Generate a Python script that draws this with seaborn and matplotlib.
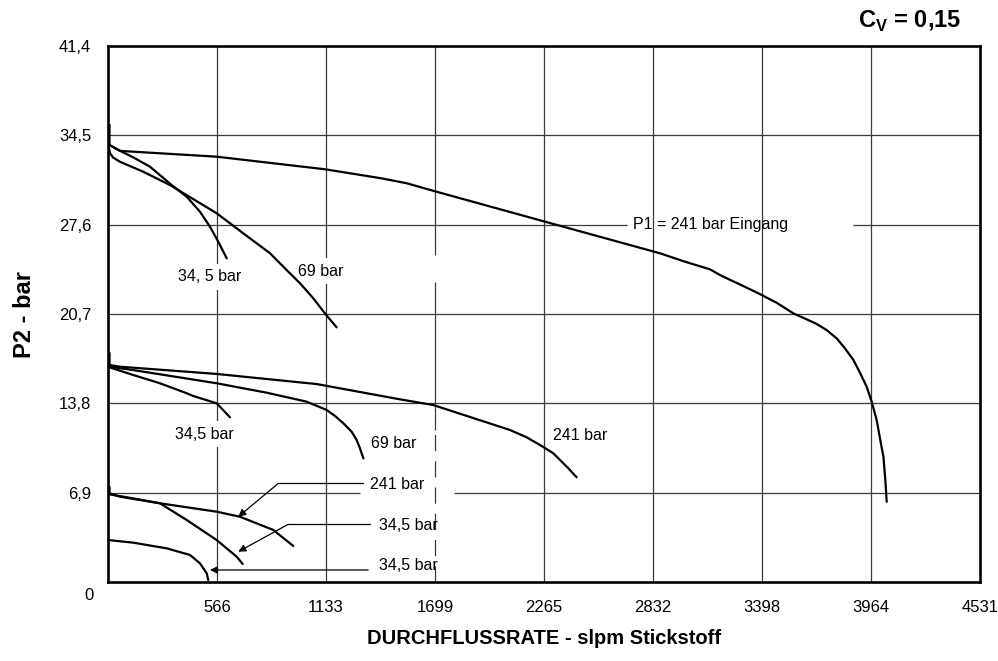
import numpy as np
import pandas as pd
import matplotlib
matplotlib.use("Agg")
import matplotlib.pyplot as plt
import seaborn as sns

# --- data (flow in slpm, P2 in bar) ---
# upper family, P2 set ~34 bar
up241_x = [8, 8, 62, 565, 1127, 1413, 1552, 1689, 2254, 2868, 2998, 3128, 3180, 3215, 3301, 3379, 3474,
           3561, 3630, 3682, 3734, 3786, 3829, 3873, 3907, 3942, 3968, 3994, 4011, 4029, 4039, 4046]
up241_y = [35.3, 33.75, 33.3, 32.85, 31.88, 31.2, 30.8, 30.22, 27.9, 25.39, 24.74, 24.15, 23.71, 23.46, 22.86, 22.3, 21.57,
           20.75, 20.29, 19.93, 19.46, 18.82, 18.05, 17.15, 16.17, 15.08, 13.93, 12.51, 11.1, 9.68, 7.88, 6.2]
up69_x = [3, 10, 26, 62, 183, 322, 565, 703, 842, 928, 998, 1067, 1127, 1188]
up69_y = [33.68, 33.14, 32.79, 32.46, 31.69, 30.66, 28.48, 26.93, 25.39, 24.1, 23.07, 21.91, 20.75, 19.67]
up34_x = [8, 62, 131, 218, 331, 409, 478, 530, 573, 617]
up34_y = [33.75, 33.31, 32.8, 32.08, 30.66, 29.76, 28.6, 27.44, 26.28, 25.0]

# middle family, P2 set ~17 bar
mid241_x = [8, 8, 62, 565, 1084, 1517, 1690, 2089, 2175, 2254, 2314, 2392, 2435]
mid241_y = [17.69, 16.76, 16.63, 16.07, 15.29, 14.11, 13.67, 11.74, 11.18, 10.5, 9.94, 8.78, 8.09]
mid69_x = [8, 131, 565, 825, 1032, 1136, 1180, 1223, 1266, 1292, 1309, 1327]
mid69_y = [16.63, 16.37, 15.35, 14.62, 13.93, 13.29, 12.82, 12.26, 11.61, 10.97, 10.33, 9.55]
mid34_x = [8, 131, 270, 409, 443, 565, 634]
mid34_y = [16.58, 15.99, 15.35, 14.58, 14.37, 13.8, 12.72]

# lower family, P2 set ~7 bar and ~3.5 bar
lo241_x = [8, 8, 62, 270, 565, 686, 859, 963]
lo241_y = [7.34, 6.85, 6.59, 6.08, 5.43, 5.04, 4.02, 2.78]
lo34_x = [8, 131, 270, 409, 565, 669, 700]
lo34_y = [6.77, 6.46, 6.08, 4.79, 3.24, 1.95, 1.39]
bot34_x = [3, 131, 305, 426, 478, 513, 521]
bot34_y = [3.24, 3.04, 2.6, 2.09, 1.44, 0.67, 0.15]

XTICKS = [566, 1133, 1699, 2265, 2832, 3398, 3964, 4531]
YTICKS = [6.9, 13.8, 20.7, 27.6, 34.5, 41.4]
YLABELS = ["6,9", "13,8", "20,7", "27,6", "34,5", "41,4"]

curves = {
    "up241": (up241_x, up241_y), "up69": (up69_x, up69_y), "up34": (up34_x, up34_y),
    "mid241": (mid241_x, mid241_y), "mid69": (mid69_x, mid69_y), "mid34": (mid34_x, mid34_y),
    "lo241": (lo241_x, lo241_y), "lo34": (lo34_x, lo34_y), "bot34": (bot34_x, bot34_y),
}
df = pd.concat([pd.DataFrame({"flow": x, "p2": y, "curve": k}) for k, (x, y) in curves.items()],
               ignore_index=True)

sns.set_theme(style="white")
plt.rcParams["font.family"] = ["Liberation Sans", "DejaVu Sans"]
plt.rcParams["text.color"] = "black"
plt.rcParams["axes.labelcolor"] = "black"
plt.rcParams["mathtext.fontset"] = "custom"
plt.rcParams["mathtext.rm"] = "Liberation Sans"
plt.rcParams["mathtext.bf"] = "Liberation Sans:bold"

fig, ax = plt.subplots(figsize=(9.98, 6.61), dpi=100)
fig.subplots_adjust(left=0.1082, right=0.982, bottom=0.1195, top=0.9304)

XMAX, YMAX = 4531, 41.4
GRID = dict(color="#3a3a3a", lw=0.9, zorder=1)

# --- grid with the gaps of the original drawing ---
for x in XTICKS[:-1]:
    if x == 1699:
        ax.vlines(x, 25.26, YMAX, **GRID)
        ax.vlines(x, 11.74, 23.17, **GRID)
        ax.plot([x, x], [0, 11.74], linestyle=(0, (13, 8)), **GRID)
    else:
        ax.vlines(x, 0, YMAX, **GRID)
for y in YTICKS[:-1]:
    if y == 27.6:
        ax.hlines(y, 0, 2697, **GRID)
        ax.hlines(y, 3871, XMAX, **GRID)
    elif y == 6.9:
        ax.hlines(y, 0, 1309, **GRID)
        ax.hlines(y, 1798, XMAX, **GRID)
    else:
        ax.hlines(y, 0, XMAX, **GRID)

sns.lineplot(data=df, x="flow", y="p2", units="curve", estimator=None, sort=False,
             color="black", lw=1.6, legend=False, ax=ax, zorder=3)

# --- curve labels ---
box = dict(facecolor="white", edgecolor="none", pad=4)
lab = dict(fontsize=11.5, color="black", zorder=2.5)
ax.text(530, 23.56, "34, 5 bar", ha="center", va="center", bbox=box, **lab)
ax.text(1107, 24.02, "69 bar", ha="center", va="center", bbox=box, **lab)
ax.text(3133, 27.65, "P1 = 241 bar Eingang", ha="center", va="center", **lab)
ax.text(499, 11.43, "34,5 bar", ha="center", va="center", bbox=box, **lab)
ax.text(1486, 10.66, "69 bar", ha="center", va="center", **lab)
ax.text(2455, 11.28, "241 bar", ha="center", va="center", **lab)
ax.text(1361, 7.57, "241 bar", ha="left", va="center", **lab)
ax.text(1408, 4.40, "34,5 bar", ha="left", va="center", **lab)
ax.text(1408, 1.25, "34,5 bar", ha="left", va="center", **lab)

# leaders with arrow heads
ARROW = dict(arrowstyle="-|>", color="black", lw=0.9, mutation_scale=11, shrinkA=0, shrinkB=0)
leaders = [((1327, 7.62), (885, 7.62), (677, 5.04)),
           ((1361, 4.46), (937, 4.46), (677, 2.34))]
for end, elbow, tip in leaders:
    ax.plot([end[0], elbow[0]], [end[1], elbow[1]], color="black", lw=0.9, zorder=2)
    ax.annotate("", xy=tip, xytext=elbow, arrowprops=ARROW, zorder=2)
ax.annotate("", xy=(530, 0.93), xytext=(1352, 0.93), arrowprops=ARROW, zorder=2)

# --- axes styling ---
ax.set_xlim(0, XMAX)
ax.set_ylim(0, YMAX)
ax.grid(False)
ax.set_xticks(XTICKS, labels=[str(v) for v in XTICKS])
ax.set_yticks(YTICKS, labels=YLABELS)
ax.tick_params(axis="both", length=0, labelsize=12, colors="black")
ax.tick_params(axis="x", pad=13)
ax.tick_params(axis="y", pad=12)
ax.text(-0.017, -0.026, "0", transform=ax.transAxes, ha="right", va="center", fontsize=12)
for s in ax.spines.values():
    s.set_visible(True)
    s.set_color("black")
    s.set_linewidth(1.9)
    s.set_zorder(4)

ax.set_xlabel("DURCHFLUSSRATE - slpm Stickstoff", fontsize=14.5, fontweight="bold", color="black")
ax.xaxis.set_label_coords(0.5, -0.088)
ax.set_ylabel("P2 - bar", fontsize=17, fontweight="bold", color="black")
ax.yaxis.set_label_coords(-0.083, 0.5)

fig.text(0.963, 0.968, r"C$_\mathbf{V}$ = 0,15", ha="right", va="center",
         fontsize=17, fontweight="bold", color="black")

fig.savefig("out.png", dpi=100)
